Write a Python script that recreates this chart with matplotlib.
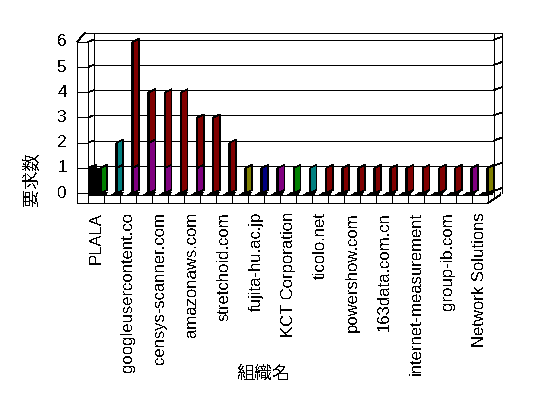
import numpy as np
import matplotlib.pyplot as plt
from matplotlib.patches import Polygon, Rectangle

plt.rcParams['font.family'] = ['Liberation Sans', 'Noto Sans CJK JP', 'DejaVu Sans']
plt.rcParams['text.antialiased'] = False

# ---- data -------------------------------------------------------------
n_orgs = 25
# only every other organisation gets a label on the axis
org_labels = ['PLALA', 'googleusercontent.co', 'censys-scanner.com', 'amazonaws.com',
              'stretchoid.com', 'fujita-hu.ac.jp', 'KCT Corporation', 'ticolo.net',
              'powershow.com', '163data.com.cn', 'internet-measurement', 'group-ib.com',
              'Network Solutions']
y_ticks = [0, 1, 2, 3, 4, 5, 6]

black_req  = [1, 0, 0, 0, 0, 0, 0, 0, 0, 0, 0, 0, 0, 0, 0, 0, 0, 0, 0, 0, 0, 0, 0, 0, 0]
green_req  = [1, 0, 0, 0, 0, 0, 0, 0, 0, 0, 0, 0, 1, 0, 0, 0, 0, 0, 0, 0, 0, 0, 0, 0, 0]
teal_req   = [0, 1, 0, 0, 0, 0, 0, 0, 0, 0, 0, 0, 0, 1, 0, 0, 0, 0, 0, 0, 0, 0, 0, 0, 0]
teal2_req  = [0, 1, 0, 0, 0, 0, 0, 0, 0, 0, 0, 0, 0, 0, 0, 0, 0, 0, 0, 0, 0, 0, 0, 0, 0]
purple_req = [0, 0, 1, 2, 1, 0, 1, 0, 0, 0, 0, 1, 0, 0, 0, 0, 0, 0, 0, 0, 0, 0, 0, 1, 0]
olive_req  = [0, 0, 0, 0, 0, 0, 0, 0, 0, 1, 0, 0, 0, 0, 0, 0, 0, 0, 0, 0, 0, 0, 0, 0, 1]
navy_req   = [0, 0, 0, 0, 0, 0, 0, 0, 0, 0, 1, 0, 0, 0, 0, 0, 0, 0, 0, 0, 0, 0, 0, 0, 0]
maroon_req = [0, 0, 5, 2, 3, 4, 2, 3, 2, 0, 0, 0, 0, 0, 1, 1, 1, 1, 1, 1, 1, 1, 1, 0, 0]

stack = [(green_req, '#008000'), (teal_req, '#008080'), (teal2_req, '#008080'),
         (purple_req, '#800080'), (olive_req, '#808000'), (navy_req, '#000080'),
         (maroon_req, '#800000')]

# ---- layout (pixels -> data units) -----------------------------------
W, H = 548, 398
PX_CAT, PX_UNIT = 16, 25.2
X0_PX, Y0_PX = 88, 193
BX, BY = 0.35, 0.08          # depth offset of the back wall
TOP = 6.35                   # top of the walls
FW, SW, SL = 0.11, 0.39, 0.12   # bar front strip, side face width, slant
LW = 0.5

fig = plt.figure(figsize=(W / 100, H / 100), dpi=100)
ax = fig.add_axes([0, 0, 1, 1])
ax.set_xlim(-X0_PX / PX_CAT, (W - X0_PX) / PX_CAT)
ax.set_ylim((Y0_PX - H) / PX_UNIT, Y0_PX / PX_UNIT)
ax.axis('off')

def line(xs, ys, z=3):
    ax.plot(xs, ys, color='black', lw=LW, antialiased=False, zorder=z, solid_capstyle='butt')

def poly(pts, fc, z=4, ec='black'):
    ax.add_patch(Polygon(pts, closed=True, facecolor=fc, edgecolor=ec, lw=LW,
                         antialiased=False, zorder=z))

def column(x0, v0, v1, color, z=5):
    # narrow dark front face + coloured side face leaning back
    poly([(x0, v0), (x0 + FW, v0), (x0 + FW, v1), (x0, v1)], 'black', z)
    poly([(x0 + FW, v0), (x0 + FW + SW, v0 + SL), (x0 + FW + SW, v1 + SL), (x0 + FW, v1)],
         color, z)

# back wall and gridlines
R = n_orgs + BX
line([BX, BX], [BY, TOP], 2)
for v in y_ticks[1:]:
    line([BX, R], [v + BY, v + BY], 2)
# top edge
line([-0.6875 + 0.5, n_orgs + 0.875], [TOP, TOP], 2)
# right wall
line([R, R], [TOP, -0.2], 2)
line([n_orgs + 0.875, n_orgs + 0.875], [TOP, 0.0], 2)
for v in y_ticks:
    line([R, n_orgs + 0.875], [v + BY, v + BY + 0.12], 2)

# floor band with the flat zero bars
ax.add_patch(Rectangle((0, -0.08), n_orgs + 0.3, 0.12, facecolor='black',
                       edgecolor='none', antialiased=False, zorder=3))
for i in range(n_orgs):
    if black_req[i] == 0:
        poly([(i + 0.2, -0.04), (i + 0.45, -0.04), (i + 0.6, 0.03), (i + 0.35, 0.03)],
             'white', 3, ec='none')

# bars
for i in range(n_orgs):
    x0 = i + 0.6875 + 0.19 * i / (n_orgs - 1)
    if black_req[i] > 0:
        column(i + 0.0, 0, black_req[i], 'black', z=5)
        ax.add_patch(Rectangle((i, 0), x0 - i, black_req[i], facecolor='black',
                               edgecolor='none', antialiased=False, zorder=5))
    base = 0
    for vals, color in stack:
        if vals[i] > 0:
            column(x0, base, base + vals[i], color, z=6)
            base += vals[i]

# left wall (front face with ticks)
poly([(-0.6875, -0.4), (0, -0.4), (0, 6), (-0.6875, 6)], 'white', 7)
for v in y_ticks:
    line([-0.6875, 0], [v, v], 7)
    line([0, BX], [v, v + BY], 2)
line([-0.6875, -0.1875], [6, TOP], 2)
line([0, BX], [6, 6 + BY], 2)

# floor front face with category cells
poly([(0, -0.4), (n_orgs, -0.4), (n_orgs, -0.08), (0, -0.08)], 'white', 7)
for i in range(n_orgs + 1):
    line([i, i], [-0.4, -0.08], 7)
line([n_orgs, n_orgs + 0.75], [-0.4, -0.08], 7)
line([n_orgs, n_orgs + 0.4], [-0.08, 0.06], 7)
line([n_orgs + 0.75, n_orgs + 0.75], [-0.08, 0.05], 7)

# tick labels
for v in y_ticks:
    ax.text(-1.3, v, str(v), ha='right', va='center', fontsize=12.5)
for k, lab in enumerate(org_labels):
    ax.text(2 * k + 0.5, -0.75, lab, rotation=90, ha='center', va='top', fontsize=12)

ax.text(-3.5, 0.55, '要求数', rotation=90, ha='center', va='center', fontsize=13)
ax.text(10.95, -7.22, '組織名', ha='center', va='center', fontsize=13)

fig.savefig('out.png', dpi=100)
